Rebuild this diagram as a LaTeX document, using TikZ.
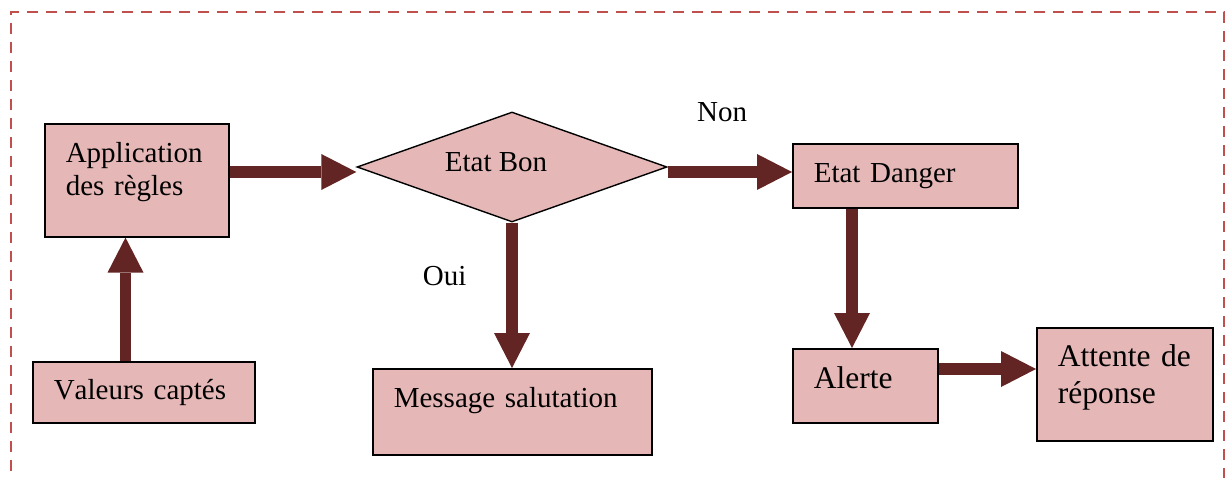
\documentclass[tikz,border=0pt]{standalone}
\usepackage{fontspec}
\setmainfont{Liberation Serif}[Kerning=Off]
\usetikzlibrary{arrows.meta,shapes.geometric}
\definecolor{boxfill}{HTML}{E5B8B7}
\definecolor{arrcol}{HTML}{632523}
\definecolor{dashcol}{HTML}{C0504D}
\begin{document}
\begin{tikzpicture}[x=1pt,y=-1pt,
  box/.style={draw=black,line width=1.6pt,fill=boxfill,rectangle,anchor=north west,
    inner ysep=0pt,inner xsep=21pt,align=left,font=\fontsize{29}{32.6}\selectfont},
  bigbox/.style={box,font=\fontsize{31.5}{37}\selectfont},
  bigarrow/.style={draw=arrcol,line width=11.5pt,
    -{Triangle[length=35pt,width=36pt,line width=0pt]}},
  lbl/.style={font=\fontsize{29}{33}\selectfont,anchor=base west,inner sep=0pt}
]
\useasboundingbox (0,0) rectangle (1228,478);
% dashed frame
\draw[dashcol,line width=2.5pt,dash pattern=on 11pt off 8pt]
  (11,490) -- (11,12) -- (1224,12) -- (1224,490);
% boxes
\node[box,text width=142pt,text height=38.7pt,text depth=74.3pt] (app) at (44,123)
  {Application\\des règles};
\node[box,text width=180pt,text height=38pt,text depth=23pt] (val) at (32,361)
  {Valeurs captés};
\node[box,text width=237pt,text height=39pt,text depth=47pt] (msg) at (372,368)
  {Message salutation};
\node[box,text width=183pt,text height=39pt,text depth=25pt] (dang) at (792,143)
  {Etat Danger};
\node[bigbox,text width=103pt,text height=40pt,text depth=34pt] (alert) at (792,348)
  {Alerte};
\node[bigbox,text width=134pt,text height=39pt,text depth=74pt] (att) at (1036,327)
  {\mbox{Attente de}\\réponse};
\node[diamond,draw=black,line width=1.4pt,fill=boxfill,minimum width=310pt,
  minimum height=110pt,inner sep=0pt,text height=10pt,text depth=0.6pt,
  font=\fontsize{29}{33}\selectfont] (dia) at (512,167) {\hspace*{-32pt}Etat Bon};
% labels
\node[lbl] (oui) at (422.7,285) {Oui};
\node[lbl] (non) at (697,121.7) {Non};
% arrows
\draw[bigarrow] (val.north -| 125.5,0) -- (app.south -| 125.5,0);
\draw[bigarrow] (app.east |- 0,172) -- (dia.west |- 0,172);
\draw[bigarrow] (dia.east |- 0,172) -- (dang.west |- 0,172);
\draw[bigarrow] (dia.south) -- (dia.south |- msg.north);
\draw[bigarrow] (dang.south -| 852,0) -- (alert.north -| 852,0);
\draw[bigarrow] (alert.east |- 0,369) -- (att.west |- 0,369);
\end{tikzpicture}
\end{document}
